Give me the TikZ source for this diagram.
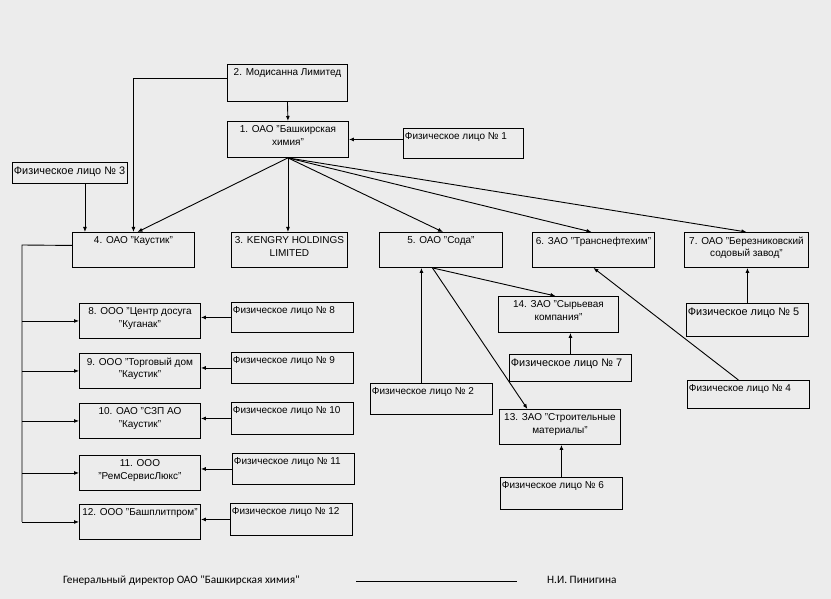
\documentclass[tikz,border=0pt]{standalone}
\usepackage{fontspec}
\setmainfont{Liberation Sans}
\newfontfamily\signfont{Carlito}
\usetikzlibrary{arrows.meta}
\definecolor{paper}{RGB}{236,236,236}
\newcommand{\ctext}[3]{\parbox[c][#2pt][t]{#1pt}{\vspace*{4.5pt}\centering #3\par}}
\newcommand{\ltext}[3]{\parbox[c][#2pt][t]{#1pt}{\vspace*{4.5pt}\raggedright\hspace*{1.5pt}#3\par}}
\begin{document}
\begin{tikzpicture}[x=1pt,y=-1pt,
  box/.style={draw,line width=0.9pt,inner sep=0pt,anchor=north west,
    font=\fontsize{10}{12.5}\selectfont},
  big/.style={font=\fontsize{10.9}{12.5}\selectfont},
  arr/.style={line width=0.9pt,-{Latex[length=5pt,width=4pt]}},
  sign/.style={font=\signfont\fontsize{11.3}{13}\selectfont,inner sep=0pt}]
\fill[paper] (0,0) rectangle (831,599);
\useasboundingbox (0,0) rectangle (831,599);

\node[box] (b2) at (227,64) {\ctext{120}{37}{2. Модисанна Лимитед}};
\node[box] (b1) at (227,121) {\ctext{121}{36}{1. ОАО "Башкирская\\ химия"}};
\node[box] (p1) at (403,128) {\ltext{120}{30}{Физическое лицо № 1}};
\node[box,big] (p3) at (12,162) {\ltext{115}{21}{Физическое лицо № 3}};

\node[box] (b4) at (72,232) {\ctext{122}{35}{4. ОАО "Каустик"}};
\node[box] (b3) at (231,232) {\ctext{116}{35}{3. KENGRY HOLDINGS\\ LIMITED}};
\node[box] (b5) at (379,232) {\ctext{123}{35}{5. ОАО "Сода"}};
\node[box] (b6) at (532,232) {\ctext{122}{35}{6. ЗАО "Транснефтехим"}};
\node[box] (b7) at (684,232) {\ctext{124}{35}{7. ОАО "Березниковский\\ содовый завод"}};

\node[box] (b8) at (79,303) {\ctext{121}{35}{8. ООО "Центр досуга\\ "Куганак"}};
\node[box] (b9) at (79,353) {\ctext{121}{35}{9. ООО "Торговый дом\\ "Каустик"}};
\node[box] (b10) at (79,403) {\ctext{121}{35}{10. ОАО "СЗП АО\\ "Каустик"}};
\node[box] (b11) at (79,455) {\ctext{121}{35}{11. ООО\\ "РемСервисЛюкс"}};
\node[box] (b12) at (79,504) {\ctext{121}{35}{12. ООО "Башплитпром"}};

\node[box] (p8) at (231,302) {\ltext{122}{30}{Физическое лицо № 8}};
\node[box] (p9) at (231,352) {\ltext{122}{31}{Физическое лицо № 9}};
\node[box] (p10) at (231,402) {\ltext{122}{32}{Физическое лицо № 10}};
\node[box] (p11) at (232,453) {\ltext{122}{31}{Физическое лицо № 11}};
\node[box] (p12) at (230,503) {\ltext{122}{32}{Физическое лицо № 12}};

\node[box] (b14) at (498,296) {\ctext{120}{36}{14. ЗАО "Сырьевая\\ компания"}};
\node[box,big] (p7) at (509,354) {\ltext{122}{27}{Физическое лицо № 7}};
\node[box] (p2) at (370,383) {\ltext{122}{31}{Физическое лицо № 2}};
\node[box] (b13) at (499,409) {\ctext{121}{35}{13. ЗАО "Строительные\\ материалы"}};
\node[box] (p6) at (500,477) {\ltext{122}{32}{Физическое лицо № 6}};
\node[box,big] (p5) at (686,303) {\ltext{122}{33}{Физическое лицо № 5}};
\node[box] (p4) at (687,380) {\ltext{122}{28}{Физическое лицо № 4}};

\path[draw,arr] (b2.south) -- (b1.north);
\path[draw,arr] (p1.west |- b1.east) -- (b1.east);
\path[draw,arr] ([yshift=4.5pt]b2.west) -| (b4.north);
\path[draw,arr] ([xshift=15pt]p3.south) -- ([xshift=15pt]p3.south |- b4.north);
\path[draw,arr] (b1.south) -- ([xshift=4pt]b4.north);
\path[draw,arr] (b1.south) -- (b1.south |- b3.north);
\path[draw,arr] (b1.south) -- ([xshift=2pt]b5.north);
\path[draw,arr] (b1.south) -- ([xshift=-2pt]b6.north);
\path[draw,arr] (b1.south) -- (b7.north);

\coordinate (trunk) at (22,245);
\path[draw,line width=0.9pt] ([yshift=4.5pt]b4.west) -- (trunk) -- (trunk |- b12.west);
\foreach \n in {8,...,12} {
  \path[draw,arr] (trunk |- b\n.west) -- (b\n.west);
  \path[draw,arr] (p\n.west) -- (p\n.west -| b\n.east);
}

\path[draw,arr] ([xshift=-10pt]p2.north) -- ([xshift=-10pt]p2.north |- b5.south);
\path[draw,arr] ([xshift=-8.5pt]b5.south) -- ([xshift=-3pt]b14.north);
\path[draw,arr] ([xshift=-8.5pt]b5.south) -- ([xshift=-32.5pt]b13.north);
\path[draw,arr] (p7.north) -- (p7.north |- b14.south);
\path[draw,arr] (p6.north) -- (p6.north |- b13.south);
\path[draw,arr] ([xshift=-10pt]p4.north) -- (b6.south);
\path[draw,arr] (p5.north) -- (p5.north |- b7.south);

\node[sign,anchor=base west] (dir) at (63,583) {Генеральный директор ОАО "Башкирская химия"};
\coordinate (s1) at (356,581);
\coordinate (s2) at (517,581);
\path[draw,line width=1pt] (s1) -- (s2);
\node[sign,anchor=base west] (name) at (547,583) {Н.И. Пинигина};
\end{tikzpicture}
\end{document}
